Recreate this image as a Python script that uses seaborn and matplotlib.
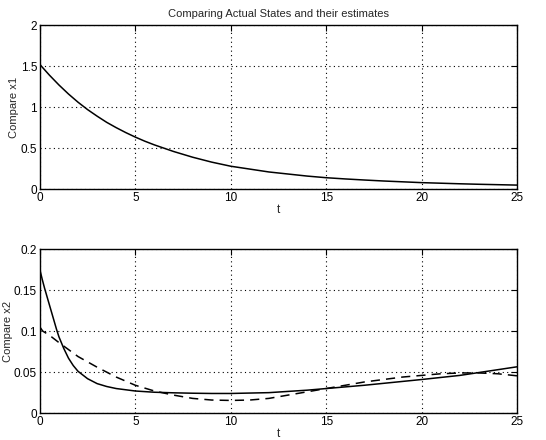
import matplotlib
matplotlib.use("Agg")
import matplotlib.pyplot as plt
import seaborn as sns
import pandas as pd

sns.set_style("white")
plt.rcParams['font.family'] = ['Liberation Sans', 'DejaVu Sans']

t1 = [0, 0.5, 1, 1.5, 2, 2.5, 3, 3.5, 4, 4.5, 5, 5.5, 6, 6.5, 7, 7.5, 8, 9, 10, 11, 12, 13,
      14, 15, 16, 17, 18, 19, 20, 21, 22, 23, 24, 25]
x1 = [1.52, 1.39, 1.27, 1.16, 1.06, 0.97, 0.89, 0.815, 0.75, 0.69, 0.635, 0.585, 0.54, 0.50,
      0.46, 0.425, 0.39, 0.33, 0.28, 0.245, 0.21, 0.185, 0.16, 0.14, 0.125, 0.112, 0.10,
      0.09, 0.08, 0.073, 0.066, 0.06, 0.055, 0.05]

t2 = [0, 0.125, 0.25, 0.375, 0.5, 0.625, 0.75, 0.875, 1, 1.25, 1.5, 1.75, 2, 2.5, 3, 3.5, 4,
      5, 6, 7, 8, 9, 10, 12, 14, 15, 17, 20, 22, 25]
x2 = [0.175, 0.163, 0.152, 0.142, 0.132, 0.122, 0.112, 0.102, 0.093, 0.079, 0.067, 0.058,
      0.051, 0.042, 0.036, 0.0325, 0.030, 0.027, 0.0255, 0.0248, 0.0243, 0.024, 0.024, 0.025,
      0.028, 0.030, 0.034, 0.041, 0.046, 0.0565]

t2e = [0, 0.15, 0.5, 1, 2, 3, 4, 5, 6, 7, 8, 9, 10, 11, 12, 13, 14, 15, 16, 17, 18, 19, 20,
       21, 22, 23, 24, 25]
x2e = [0.105, 0.100, 0.095, 0.086, 0.069, 0.056, 0.044, 0.034, 0.027, 0.022, 0.018, 0.016,
       0.0155, 0.016, 0.018, 0.022, 0.026, 0.030, 0.034, 0.038, 0.041, 0.044, 0.046, 0.048,
       0.049, 0.049, 0.048, 0.0455]

fig = plt.figure(figsize=(5.46, 4.4), dpi=100)
ax1 = fig.add_axes([0.073, 0.570, 0.874, 0.373])
ax2 = fig.add_axes([0.073, 0.061, 0.874, 0.373])

sns.lineplot(x=t1, y=x1, ax=ax1, color='black', lw=1.1)
sns.lineplot(x=t2, y=x2, ax=ax2, color='black', lw=1.1)
sns.lineplot(x=t2e, y=x2e, ax=ax2, color='black', lw=1.1, linestyle=(0, (6, 4)))

for ax, ylim, yt, yl in [(ax1, (0, 2), [0, 0.5, 1, 1.5, 2], 'Compare x1'),
                         (ax2, (0, 0.2), [0, 0.05, 0.1, 0.15, 0.2], 'Compare x2')]:
    ax.set_xlim(0, 25)
    ax.set_ylim(*ylim)
    ax.set_xticks([0, 5, 10, 15, 20, 25])
    ax.set_yticks(yt)
    ax.set_yticklabels([f"{v:g}" for v in yt])
    ax.grid(True, color='black', linestyle=(0, (1, 3)), linewidth=0.8)
    ax.tick_params(direction='in', length=4, labelsize=8.5, colors='black', pad=2,
                   top=True, right=True)
    for s in ax.spines.values():
        s.set_color('black')
        s.set_linewidth(1.0)
    ax.set_xlabel('t', fontsize=8.5, labelpad=0)
    ax.set_ylabel(yl, fontsize=8, labelpad=1)

ax1.set_title('Comparing Actual States and their estimates', fontsize=8, pad=6)

fig.savefig('out.png', dpi=100)
